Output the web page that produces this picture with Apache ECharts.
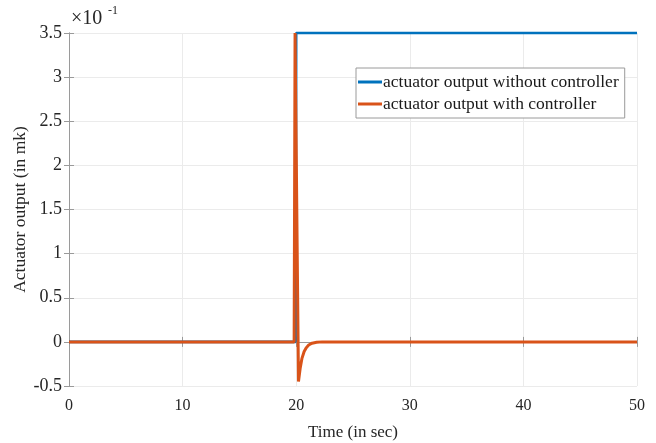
<!DOCTYPE html>
<html>
<head>
<meta charset="utf-8">
<script src="https://cdn.jsdelivr.net/npm/echarts@6/dist/echarts.min.js"></script>
<style>
  html, body { margin: 0; padding: 0; background: #fff; }
  #main { width: 656px; height: 443px; }
</style>
</head>
<body>
<div id="main"></div>
<script>
// 数据 (y 值单位为 ×10^-1)
var xTicks = [0, 10, 20, 30, 40, 50];
var yTicks = [-0.5, 0, 0.5, 1, 1.5, 2, 2.5, 3, 3.5];

var timeNoCtrl = [0, 19.95, 20.0, 50];
var valNoCtrl = [0, 0, 3.5, 3.5];

var timeCtrl = [0, 19.82, 19.9, 20.2, 20.35, 20.5, 20.7, 20.9, 21.1, 21.4, 21.8, 22.3, 50];
var valCtrl = [0, 0, 3.5, -0.45, -0.3, -0.19, -0.11, -0.065, -0.035, -0.015, -0.005, 0, 0];

var legendNames = ['actuator output without controller', 'actuator output with controller'];

function pairs(xs, ys) {
  var out = [];
  for (var i = 0; i < xs.length; i++) out.push([xs[i], ys[i]]);
  return out;
}

var font = 'Liberation Serif';
var myChart = echarts.init(document.getElementById('main'));

var axisCommon = {
  axisLine: { show: true, lineStyle: { color: '#9a9a9a', width: 1 } },
  axisTick: { show: true, inside: true, length: 5, lineStyle: { color: '#9a9a9a' } }
};

let option = {
  animation: false,
  color: ['#0072BD', '#D95319'],
  grid: { left: 69, right: 19, top: 33, bottom: 57, containLabel: false, outerBoundsMode: 'none' },
  legend: {
    orient: 'vertical',
    left: 356,
    top: 68,
    data: legendNames,
    icon: 'rect',
    itemWidth: 24,
    itemHeight: 3,
    itemGap: 4,
    padding: [5, 6, 5, 2],
    borderColor: '#9a9a9a',
    borderWidth: 1,
    backgroundColor: '#fff',
    textStyle: { fontFamily: font, fontSize: 17.5, color: '#1a1a1a', padding: [0, 0, 0, -4] }
  },
  xAxis: [{
    type: 'value',
    min: 0, max: 50, interval: 10,
    name: 'Time (in sec)',
    nameLocation: 'middle',
    nameGap: 38,
    nameTextStyle: { fontFamily: font, fontSize: 17, color: '#262626' },
    axisLabel: { fontFamily: font, fontSize: 16, color: '#262626', margin: 12,
      formatter: function (v) { return xTicks.indexOf(v) >= 0 ? String(v) : ''; } },
    splitLine: { show: true, lineStyle: { color: '#ebebeb' } },
    axisLine: axisCommon.axisLine,
    axisTick: axisCommon.axisTick
  }, {
    type: 'value', position: 'top',
    min: 0, max: 50, interval: 10,
    axisLabel: { show: false },
    splitLine: { show: false },
    axisLine: axisCommon.axisLine,
    axisTick: axisCommon.axisTick
  }],
  yAxis: [{
    type: 'value',
    min: -0.5, max: 3.5, interval: 0.5,
    name: 'Actuator output (in mk)',
    nameLocation: 'middle',
    nameGap: 40,
    nameMoveOverlap: false,
    nameTextStyle: { fontFamily: font, fontSize: 17.5, color: '#262626' },
    axisLabel: { fontFamily: font, fontSize: 18, color: '#262626', margin: 7,
      formatter: function (v) { return yTicks.indexOf(v) >= 0 ? String(v) : ''; } },
    splitLine: { show: true, lineStyle: { color: '#ebebeb' } },
    axisLine: axisCommon.axisLine,
    axisTick: axisCommon.axisTick
  }, {
    type: 'value', position: 'right',
    min: -0.5, max: 3.5, interval: 0.5,
    axisLabel: { show: false },
    splitLine: { show: false },
    axisLine: axisCommon.axisLine,
    axisTick: axisCommon.axisTick
  }],
  graphic: [{
    type: 'text', left: 71, top: 9,
    style: { text: '×10', fontFamily: font, fontSize: 20, fill: '#262626' }
  }, {
    type: 'text', left: 108, top: 5,
    style: { text: '-1', fontFamily: font, fontSize: 12, fill: '#262626' }
  }],
  series: [{
    name: legendNames[0],
    type: 'line',
    data: pairs(timeNoCtrl, valNoCtrl),
    showSymbol: false,
    clip: false,
    lineStyle: { width: 2.6, color: '#0072BD' },
    z: 2
  }, {
    name: legendNames[1],
    type: 'line',
    data: pairs(timeCtrl, valCtrl),
    showSymbol: false,
    clip: false,
    lineStyle: { width: 3, color: '#D95319' },
    z: 3
  }]
};

myChart.setOption(option);
</script>
</body>
</html>
